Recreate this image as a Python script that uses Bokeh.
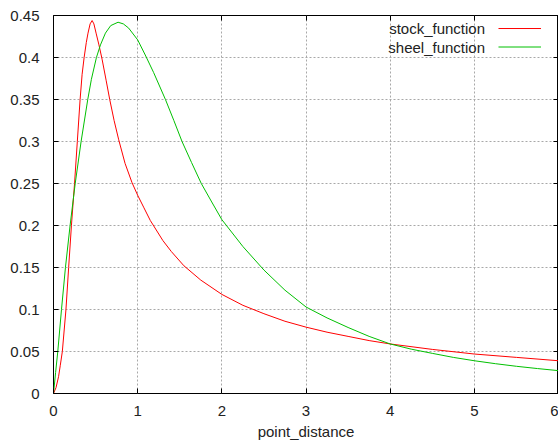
from bokeh.plotting import figure
from bokeh.models import Range1d, FixedTicker, LinearAxis, Label
from bokeh.embed import file_html
from bokeh.resources import INLINE

# ---- data ----
stock_x = [0, 0.03, 0.06, 0.08, 0.105, 0.148, 0.18, 0.213, 0.25, 0.283, 0.316, 0.34, 0.364,
           0.39, 0.41, 0.435, 0.459, 0.48, 0.506, 0.54, 0.577, 0.625, 0.668, 0.72, 0.775,
           0.85, 0.933, 1.0, 1.075, 1.15, 1.3, 1.4, 1.55, 1.75, 2.0, 2.25, 2.5, 2.75, 3.0,
           3.25, 3.5, 3.75, 4.0, 4.5, 5.0, 5.5, 6.0]
stock_y = [0, 0.007, 0.02, 0.033, 0.05, 0.1, 0.15, 0.2, 0.25, 0.3, 0.35, 0.38, 0.4,
           0.418, 0.429, 0.44, 0.444, 0.44, 0.429, 0.415, 0.398, 0.373, 0.35, 0.325, 0.302,
           0.274, 0.251, 0.236, 0.221, 0.206, 0.182, 0.169, 0.152, 0.135, 0.118, 0.105, 0.095,
           0.086, 0.079, 0.073, 0.068, 0.063, 0.059, 0.0525, 0.047, 0.043, 0.039]

sheel_x = [0, 0.025, 0.051, 0.095, 0.142, 0.197, 0.258, 0.328, 0.407, 0.45, 0.51, 0.558,
           0.617, 0.68, 0.767, 0.83, 0.893, 1.0, 1.09, 1.19, 1.33, 1.43, 1.527, 1.64, 1.756,
           1.88, 2.0, 2.25, 2.5, 2.75, 3.0, 3.25, 3.5, 3.75, 4.0, 4.25, 4.5, 4.75, 5.0, 5.25,
           5.5, 5.75, 6.0]
sheel_y = [0, 0.025, 0.05, 0.1, 0.15, 0.2, 0.25, 0.3, 0.35, 0.374, 0.4, 0.415,
           0.429, 0.438, 0.442, 0.44, 0.435, 0.421, 0.403, 0.382, 0.35, 0.325, 0.3, 0.275, 0.25,
           0.228, 0.207, 0.175, 0.147, 0.123, 0.103, 0.09, 0.0786, 0.068, 0.059, 0.0528, 0.0478,
           0.043, 0.039, 0.0355, 0.0324, 0.0297, 0.0272]

series_names = ["stock_function", "sheel_function"]
x_ticks = [0, 1, 2, 3, 4, 5, 6]
y_ticks = [0, 0.05, 0.1, 0.15, 0.2, 0.25, 0.3, 0.35, 0.4, 0.45]
y_tick_labels = ["0", "0.05", "0.1", "0.15", "0.2", "0.25", "0.3", "0.35", "0.4", "0.45"]
x_label = "point_distance"

# ---- styles / layout ----
series_colors = ["#ff0000", "#00c000"]
FONT = "Liberation Sans"
FS = "15px"
TXT = "#222222"
# legend layout (gnuplot style: text, then sample line), in axis units
LEG_TEXT_RIGHT = 5.127
LEG_LINE_X0, LEG_LINE_X1 = 5.287, 5.792
LEG_ROWS_Y = [0.4345, 0.4125]

p = figure(width=558, height=443, output_backend="svg", toolbar_location=None,
           x_range=Range1d(0, 6), y_range=Range1d(0, 0.45),
           min_border_left=53, min_border_right=0, min_border_top=15, min_border_bottom=50)
p.background_fill_color = "white"
p.border_fill_color = "white"
p.outline_line_color = "black"
p.outline_line_width = 1

# axes
p.xaxis.ticker = FixedTicker(ticks=x_ticks)
p.yaxis.ticker = FixedTicker(ticks=y_ticks)
p.yaxis.major_label_overrides = {t: s for t, s in zip(y_ticks, y_tick_labels)}
for ax in (p.xaxis[0], p.yaxis[0]):
    ax.axis_line_color = None
    ax.major_tick_in = 5
    ax.major_tick_out = 0
    ax.major_tick_line_color = "black"
    ax.minor_tick_line_color = None
    ax.major_label_text_font = FONT
    ax.major_label_text_font_size = FS
    ax.major_label_text_color = TXT
p.yaxis.major_label_standoff = 14
p.xaxis.major_label_standoff = 12
p.xaxis.axis_label = x_label
p.xaxis.axis_label_text_font = FONT
p.xaxis.axis_label_text_font_size = FS
p.xaxis.axis_label_text_font_style = "normal"
p.xaxis.axis_label_text_color = TXT
p.xaxis.axis_label_standoff = 4

# mirror ticks (top/right), no labels
top = LinearAxis(ticker=FixedTicker(ticks=x_ticks))
right = LinearAxis(ticker=FixedTicker(ticks=y_ticks))
for ax in (top, right):
    ax.axis_line_color = None
    ax.major_tick_in = 5
    ax.major_tick_out = 0
    ax.major_tick_line_color = "black"
    ax.minor_tick_line_color = None
    ax.major_label_text_font_size = "0px"
    ax.major_label_standoff = 0
top.major_label_overrides = {t: "" for t in x_ticks}
right.major_label_overrides = {t: "" for t in y_ticks}
p.add_layout(top, "above")
p.add_layout(right, "right")

# grid
for g in (p.xgrid[0], p.ygrid[0]):
    g.grid_line_color = "#a8a8a8"
    g.grid_line_dash = "2 2"
    g.grid_line_width = 1
p.xgrid.ticker = FixedTicker(ticks=x_ticks)
p.ygrid.ticker = FixedTicker(ticks=y_ticks)

p.line(stock_x, stock_y, line_color=series_colors[0], line_width=1)
p.line(sheel_x, sheel_y, line_color=series_colors[1], line_width=1)

# legend samples and texts
for col, yy in zip(series_colors, LEG_ROWS_Y):
    p.line(x=[LEG_LINE_X0, LEG_LINE_X1], y=[yy, yy], line_color=col, line_width=1)
for name, yy in zip(series_names, LEG_ROWS_Y):
    p.add_layout(Label(x=LEG_TEXT_RIGHT, y=yy, text=name, text_align="right",
                       text_baseline="middle", text_font=FONT, text_font_size=FS,
                       text_color=TXT))

open("out.html", "w").write(file_html(p, INLINE))
